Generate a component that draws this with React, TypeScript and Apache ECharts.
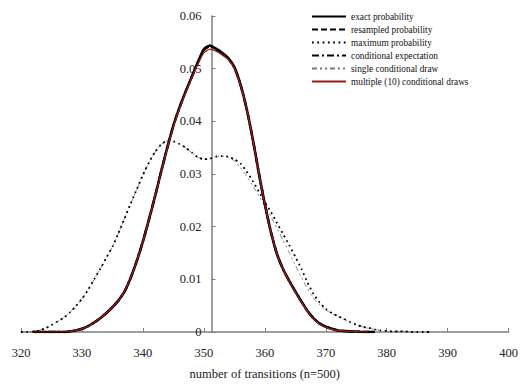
import React, { useEffect, useRef } from "react";
import * as echarts from "echarts";

const transitions = [
  320, 321, 322, 323, 324, 325, 326, 327, 328, 329,
  330, 331, 332, 333, 334, 335, 336, 337, 338, 339,
  340, 341, 342, 343, 344, 345, 346, 347, 348, 349,
  350, 351, 352, 353, 354, 355, 356, 357, 358, 359,
  360, 361, 362, 363, 364, 365, 366, 367, 368, 369,
  370, 371, 372, 373, 374, 375, 376, 377, 378, 379,
  380, 381, 382, 383, 384, 385, 386, 387,
];

const exactProbability = [
  null, null, 0, 0, 0, 0, 0, 0, 0.0001, 0.0003,
  0.0006, 0.0011, 0.0018, 0.0026, 0.0036, 0.0047, 0.006, 0.0077, 0.0103, 0.0135,
  0.0172, 0.0214, 0.0258, 0.0305, 0.035, 0.0392, 0.0426, 0.0456, 0.0484, 0.0512,
  0.0537, 0.0544, 0.0538, 0.053, 0.052, 0.0503, 0.047, 0.0425, 0.0368, 0.0303,
  0.0243, 0.019, 0.0148, 0.0119, 0.0097, 0.0077, 0.0058, 0.004, 0.0026, 0.0016,
  0.001, 0.0006, 0.0003, 0.0002, 0.0001, 0.0001, 0, 0, 0, null,
  null, null, null, null, null, null, null, null,
];

const resampledProbability = [
  null, null, 0, 0, 0, 0, 0, 0, 0.0001, 0.0003,
  0.0007, 0.0012, 0.0019, 0.0027, 0.0037, 0.0048, 0.0061, 0.0078, 0.0104, 0.0136,
  0.0173, 0.0215, 0.0259, 0.0305, 0.0351, 0.0392, 0.0425, 0.0455, 0.0483, 0.051,
  0.0534, 0.0541, 0.0536, 0.0528, 0.0518, 0.0501, 0.047, 0.0426, 0.0369, 0.0304,
  0.0244, 0.0191, 0.0149, 0.012, 0.0097, 0.0076, 0.0057, 0.004, 0.0026, 0.0016,
  0.001, 0.0006, 0.0003, 0.0002, 0.0001, 0.0001, 0, 0, 0, null,
  null, null, null, null, null, null, null, null,
];

const maximumProbability = [
  0, 0, 0.0001, 0.0003, 0.0007, 0.0013, 0.002, 0.0027, 0.0037, 0.0049,
  0.0063, 0.008, 0.01, 0.012, 0.0141, 0.0162, 0.0188, 0.0216, 0.0244, 0.0271,
  0.0298, 0.0322, 0.0342, 0.0356, 0.0363, 0.0362, 0.0357, 0.035, 0.0341, 0.0332,
  0.0328, 0.0329, 0.0333, 0.0334, 0.0333, 0.0328, 0.032, 0.0305, 0.0287, 0.0267,
  0.0247, 0.0228, 0.0207, 0.0186, 0.0165, 0.0143, 0.012, 0.0094, 0.0072, 0.0056,
  0.0044, 0.0036, 0.003, 0.0025, 0.0019, 0.0014, 0.001, 0.0008, 0.0005, 0.0003,
  0.0002, 0.0001, 0.0001, 0.0001, 0, 0, 0, 0,
];

const conditionalExpectation = [
  null, null, 0, 0, 0, 0, 0, 0, 0.0001, 0.0003,
  0.0006, 0.0011, 0.0018, 0.0026, 0.0036, 0.0047, 0.006, 0.0077, 0.0103, 0.0135,
  0.0172, 0.0214, 0.0258, 0.0305, 0.035, 0.0392, 0.0426, 0.0456, 0.0484, 0.0511,
  0.0536, 0.0543, 0.0537, 0.0529, 0.0519, 0.0502, 0.047, 0.0425, 0.0368, 0.0303,
  0.0243, 0.019, 0.0148, 0.0119, 0.0097, 0.0077, 0.0058, 0.004, 0.0026, 0.0016,
  0.001, 0.0006, 0.0003, 0.0002, 0.0001, 0.0001, 0, 0, 0, null,
  null, null, null, null, null, null, null, null,
];

const singleConditionalDraw = [
  0, 0, 0.0001, 0.0003, 0.0007, 0.0013, 0.002, 0.0027, 0.0037, 0.0049,
  0.0063, 0.008, 0.01, 0.012, 0.0141, 0.0162, 0.0188, 0.0216, 0.0244, 0.0271,
  0.0298, 0.0322, 0.0342, 0.0356, 0.0363, 0.0362, 0.0357, 0.035, 0.0341, 0.0332,
  0.0328, 0.0329, 0.0333, 0.0334, 0.0332, 0.0325, 0.0312, 0.0296, 0.0278, 0.0259,
  0.024, 0.0219, 0.0197, 0.0174, 0.0151, 0.0127, 0.0104, 0.0082, 0.0064, 0.0052,
  0.0042, 0.0035, 0.0029, 0.0024, 0.0018, 0.0013, 0.001, 0.0007, 0.0005, 0.0003,
  0.0002, 0.0001, 0.0001, 0.0001, 0, 0, 0, 0,
];

const multipleConditionalDraws = [
  null, null, 0, 0, 0, 0, 0, 0, 0.0001, 0.0003,
  0.0006, 0.0011, 0.0018, 0.0026, 0.0036, 0.0047, 0.006, 0.0078, 0.0103, 0.0135,
  0.0172, 0.0214, 0.0258, 0.0304, 0.0349, 0.039, 0.0424, 0.0454, 0.0482, 0.0508,
  0.053, 0.0537, 0.0533, 0.0526, 0.0517, 0.05, 0.0469, 0.0425, 0.0368, 0.0303,
  0.0243, 0.019, 0.0148, 0.0119, 0.0096, 0.0076, 0.0057, 0.0039, 0.0025, 0.0015,
  0.0009, 0.0005, 0.0003, 0.0002, 0.0001, 0.0001, 0, 0, null, null,
  null, null, null, null, null, null, null, null,
];

const xTicks = { min: 320, max: 400, interval: 10 };
const yTicks = { min: 0, max: 0.06, interval: 0.01 };

const FONT = "Liberation Serif";

function pairs(values: (number | null)[]) {
  return transitions.map((x, i) => [x, values[i]]);
}

export default function App() {
  const ref = useRef<HTMLDivElement>(null);

  useEffect(() => {
    if (!ref.current) return;
    const chart = echarts.init(ref.current, undefined, { renderer: "svg" });
    const lineBase = {
      type: "line",
      showSymbol: false,
      symbol: "none",
      smooth: 0.2,
      connectNulls: false,
    };
    chart.setOption({
      animation: false,
      backgroundColor: "#ffffff",
      textStyle: { fontFamily: FONT },
      grid: { left: 21, right: 11, top: 16, bottom: 56, containLabel: false },
      legend: {
        orient: "vertical",
        left: 306,
        top: 7,
        itemWidth: 34,
        itemHeight: 9,
        itemGap: 4,
        itemStyle: { opacity: 0 },
        textStyle: { fontFamily: FONT, fontSize: 9.3, color: "#111" },
        data: [
          "exact probability",
          "resampled probability",
          "maximum probability",
          "conditional expectation",
          "single conditional draw",
          "multiple (10) conditional draws",
        ],
      },
      xAxis: {
        type: "value",
        min: xTicks.min,
        max: xTicks.max,
        interval: xTicks.interval,
        name: "number of transitions (n=500)",
        nameLocation: "middle",
        nameGap: 35,
        nameTextStyle: { fontFamily: FONT, fontSize: 12.5, color: "#222" },
        axisLine: { show: true, onZero: false, lineStyle: { color: "#808080", width: 1.5 } },
        axisTick: { show: true, inside: true, length: 4, lineStyle: { color: "#808080", width: 1 } },
        axisLabel: { fontFamily: FONT, fontSize: 12.5, color: "#222", margin: 14 },
        splitLine: { show: false },
      },
      yAxis: {
        type: "value",
        min: yTicks.min,
        max: yTicks.max,
        interval: yTicks.interval,
        position: "left",
        offset: -190.5,
        axisLine: { show: true, onZero: false, lineStyle: { color: "#808080", width: 1.5 } },
        axisTick: { show: true, inside: true, length: 4, lineStyle: { color: "#808080", width: 1 } },
        axisLabel: {
          fontFamily: FONT,
          fontSize: 12.5,
          color: "#222",
          margin: 10,
          formatter: (v: number) => (v === 0 ? "0" : v.toFixed(2)),
        },
        splitLine: { show: false },
      },
      series: [
        {
          ...lineBase,
          name: "exact probability",
          z: 3,
          data: pairs(exactProbability),
          lineStyle: { color: "#000", width: 2.6, type: "solid" },
          itemStyle: { color: "#000" },
        },
        {
          ...lineBase,
          name: "resampled probability",
          z: 3,
          data: pairs(resampledProbability),
          lineStyle: { color: "#000", width: 1, type: [6, 3] },
          itemStyle: { color: "#000" },
        },
        {
          ...lineBase,
          name: "maximum probability",
          z: 3,
          data: pairs(maximumProbability),
          lineStyle: { color: "#000", width: 1.8, type: [1.8, 3.5] },
          itemStyle: { color: "#000" },
        },
        {
          ...lineBase,
          name: "conditional expectation",
          z: 3,
          data: pairs(conditionalExpectation),
          lineStyle: { color: "#000", width: 2.4, type: [7, 3, 2, 3] },
          itemStyle: { color: "#000" },
        },
        {
          ...lineBase,
          name: "single conditional draw",
          z: 2,
          data: pairs(singleConditionalDraw),
          lineStyle: { color: "#777", width: 0.9, type: [5, 3, 2, 3, 2, 3] },
          itemStyle: { color: "#333" },
        },
        {
          ...lineBase,
          name: "multiple (10) conditional draws",
          z: 4,
          data: pairs(multipleConditionalDraws),
          lineStyle: { color: "#9e1b1b", width: 1.2, type: "solid" },
          itemStyle: { color: "#9e1b1b" },
        },
      ],
    });
    return () => chart.dispose();
  }, []);

  return (
    <div
      ref={ref}
      style={{ position: "fixed", left: 0, top: 0, width: 521, height: 388, background: "#fff" }}
    />
  );
}
